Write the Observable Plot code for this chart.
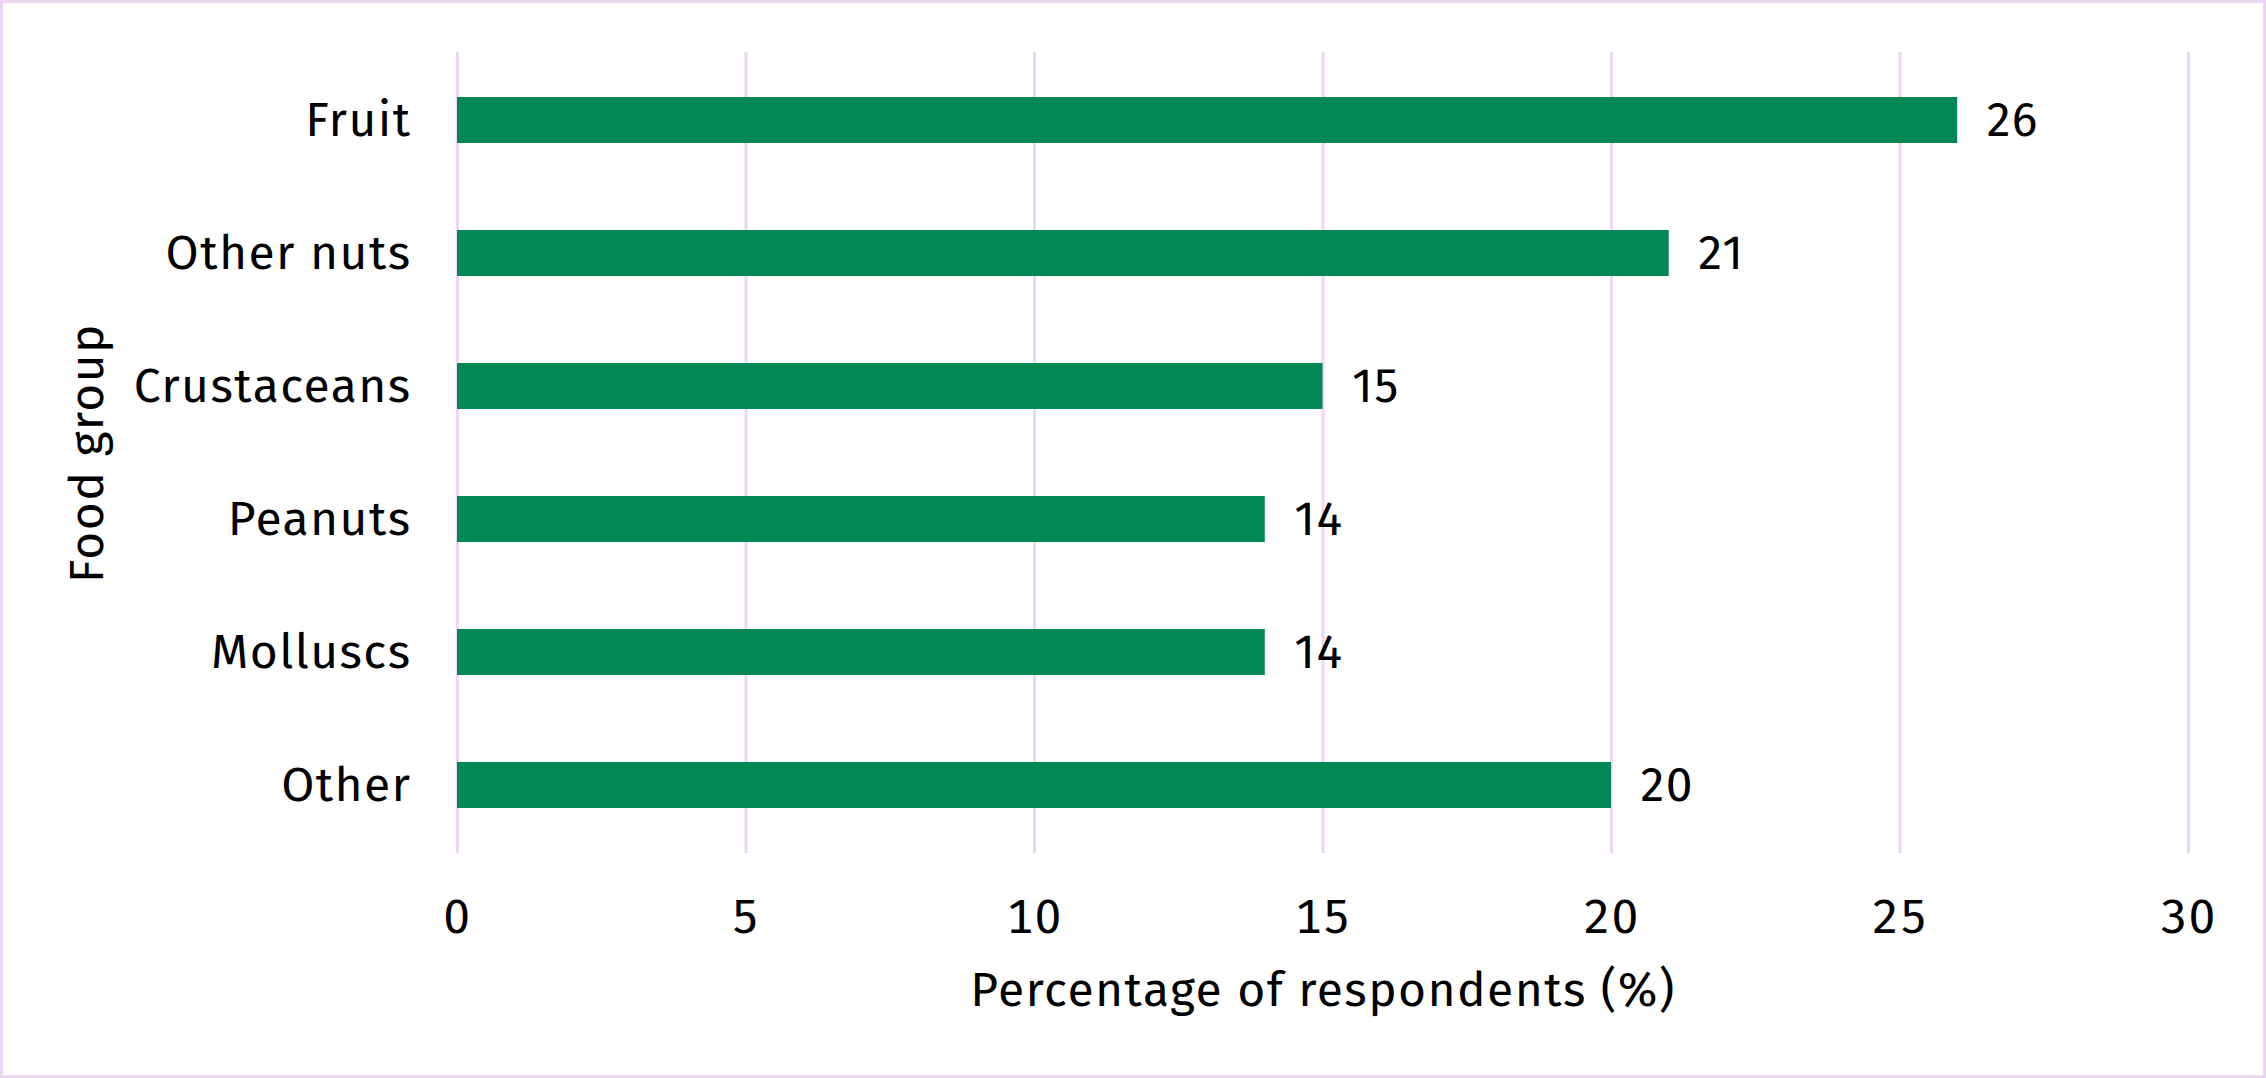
<!DOCTYPE html>
<html>
<head>
<meta charset="utf-8">
<script src="https://cdn.jsdelivr.net/npm/d3@7"></script>
<script src="https://cdn.jsdelivr.net/npm/@observablehq/plot@0.6"></script>
<style>
  html, body { margin: 0; padding: 0; background: #ffffff; }
  #wrap { position: relative; width: 2266px; height: 1078px; overflow: hidden; background: #fff; }
  #border { position: absolute; left: 0; top: 0; width: 2266px; height: 1078px; box-sizing: border-box; border: 3px solid #ecd7f3; pointer-events: none; }
  #chart svg text { letter-spacing: 1.4px; }
</style>
</head>
<body>
<div id="wrap"><div id="chart"></div><div id="border"></div></div>
<script>
const categories = ["Fruit", "Other nuts", "Crustaceans", "Peanuts", "Molluscs", "Other"];
const values = [26, 21, 15, 14, 14, 20];
const xTicks = [0, 5, 10, 15, 20, 25, 30];
const xLabel = "Percentage of respondents (%)";
const yLabel = "Food group";

const data = categories.map((c, i) => ({group: c, value: values[i]}));

const FONT = "'Fira Sans', 'Open Sans', 'Noto Sans', sans-serif";
const GREEN = "#028755";
const GRID = "#eed6f5";

const chart = Plot.plot({
  width: 2266,
  height: 1078,
  marginLeft: 457,
  marginRight: 78,
  marginTop: 52,
  marginBottom: 225,
  style: {fontFamily: FONT, fontSize: "48px", background: "#ffffff", color: "#000", overflow: "visible"},
  x: {domain: [0, 30]},
  y: {domain: categories, paddingInner: 0.655, paddingOuter: 0.3275},
  marks: [
    Plot.gridX(xTicks, {stroke: GRID, strokeOpacity: 1, strokeWidth: 3}),
    Plot.barX(data, {x: "value", y: "group", fill: GREEN}),
    Plot.text(data, {x: "value", y: "group", text: d => String(d.value), textAnchor: "start", dx: 29, fontSize: 48, fill: "#000"}),
    Plot.axisX(xTicks, {tickSize: 0, tickPadding: 45, fontSize: 48, label: xLabel, labelAnchor: "center", labelOffset: 152, labelArrow: "none", tickFormat: d => String(d)}),
    Plot.axisY({tickSize: 0, tickPadding: 46, fontSize: 48, label: yLabel, labelAnchor: "center", labelOffset: 389, labelArrow: "none"})
  ]
});
document.getElementById("chart").appendChild(chart);
</script>
</body>
</html>
